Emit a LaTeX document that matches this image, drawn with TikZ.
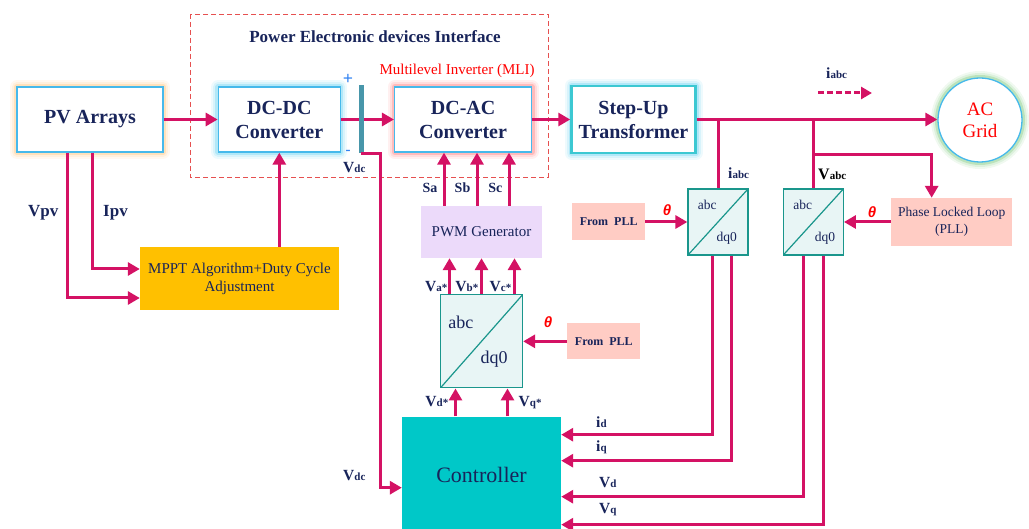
\documentclass[tikz,border=0pt]{standalone}
\usepackage{fontspec}
\setmainfont{Liberation Serif}
\newfontfamily\thetafont{Liberation Sans}
\usetikzlibrary{positioning, arrows.meta}

\definecolor{wirecol}{RGB}{212,18,100}
\definecolor{navy}{RGB}{24,36,90}
\definecolor{boxline}{RGB}{70,185,235}
\definecolor{trafoline}{RGB}{60,200,210}
\definecolor{mpptfill}{RGB}{255,192,0}
\definecolor{pwmfill}{RGB}{236,218,250}
\definecolor{pllfill}{RGB}{255,204,196}
\definecolor{parkfill}{RGB}{232,245,245}
\definecolor{parkline}{RGB}{26,150,140}
\definecolor{ctrlfill}{RGB}{0,200,200}
\definecolor{capcol}{RGB}{72,150,170}
\definecolor{framecol}{RGB}{230,80,80}
\definecolor{pvglow}{RGB}{255,190,110}
\definecolor{dcglow}{RGB}{90,205,240}
\definecolor{acglow}{RGB}{255,110,110}
\definecolor{gridglow}{RGB}{110,195,110}

\newcommand{\lsub}[1]{{\fontsize{11}{13}\selectfont #1}}

\begin{document}
\begin{tikzpicture}[x=1pt, y=-1pt,
  box/.style={draw=boxline, line width=1.3pt, fill=white, align=center, text=navy, inner sep=1pt, minimum height=65pt, font=\fontsize{20}{24}\selectfont\bfseries},
  glow/.style={preaction={draw=#1, line width=14pt, opacity=0.1, line join=round},
    preaction={draw=#1, line width=10pt, opacity=0.15, line join=round},
    preaction={draw=#1, line width=6pt, opacity=0.3, line join=round}},
  flat/.style={fill=#1, align=center, text=navy, inner sep=1pt},
  park/.style={draw=parkline, fill=parkfill, line width=1.3pt, path picture={\draw[parkline, line width=1.2pt] (path picture bounding box.south west) -- (path picture bounding box.north east);}},
  parktxt/.style={text=navy, inner sep=0pt, font=\fontsize{#1}{#1}\selectfont},
  wire/.style={draw=wirecol, line width=3pt, -{Triangle[length=12pt, width=13pt]}},
  tap/.style={draw=wirecol, line width=3pt},
  flow/.style={draw=wirecol, line width=3pt, dash pattern=on 6pt off 3pt, -{Triangle[length=11pt, width=12pt]}},
  sig/.style={text=navy, inner sep=0pt, font=\fontsize{15.5}{17}\selectfont\bfseries},
  thetalbl/.style={text=red, inner sep=0pt, font=\fontsize{15}{17}\selectfont\thetafont\bfseries\itshape}]

  \useasboundingbox (0,0) rectangle (1029,529);

  % interface frame
  \draw[framecol, line width=0.9pt, dash pattern=on 5pt off 3pt] (190,14) rectangle (548,177);
  \node[text=navy, font=\fontsize{17}{20}\selectfont\bfseries] (peti) at (375,37) {Power Electronic devices Interface};
  \node[text=red, font=\fontsize{15}{18}\selectfont] (mli) at (457,71) {Multilevel Inverter (MLI)};

  % power path
  \node[box, glow=pvglow, minimum width=146pt] (pv) at (90,119.5) {PV Arrays};
  \node[box, glow=dcglow, right=54pt of pv, minimum width=122pt] (dcdc) {DC-DC\\Converter};
  \node[box, glow=acglow, right=53pt of dcdc, minimum width=137pt] (dcac) {DC-AC\\Converter};
  \node[box, glow=dcglow, draw=trafoline, line width=2.5pt, right=38pt of dcac, minimum width=124pt, minimum height=67pt] (trafo) {Step-Up\\Transformer};
  \node[circle, glow=gridglow, draw=boxline, line width=1.3pt, fill=white, minimum size=84pt, align=center, text=red, font=\fontsize{19}{22}\selectfont] (grid) at (980,120) {AC\\Grid};
  \draw[wire] (pv) -- (dcdc);
  \draw[wire] (dcdc) -- (dcac);
  \draw[wire] (dcac) -- (trafo);
  \draw[wire] (trafo.east) -- (trafo.east -| grid.west);

  % dc link
  \node[fill=capcol, minimum width=5pt, minimum height=68pt, inner sep=0pt] (cap) at (361,119.5) {};
  \node[text=boxline!70!blue, inner sep=0pt, font=\fontsize{18}{18}\selectfont\bfseries] (capplus) at (348,79) {+};
  \node[text=boxline!70!blue, inner sep=0pt, font=\fontsize{15}{15}\selectfont\bfseries] (capminus) at (348,152) {-};
  \node[sig, anchor=base west] (vdcup) at (343,173) {V\lsub{dc}};

  % control blocks
  \node[flat=mpptfill, minimum width=199pt, minimum height=63pt, font=\fontsize{15}{18}\selectfont] (mppt) at (239.5,278.5) {MPPT Algorithm+Duty Cycle\\Adjustment};
  \node[flat=pwmfill, minimum width=121pt, minimum height=52pt, font=\fontsize{15}{18}\selectfont] (pwm) at (481.5,232) {PWM Generator};
  \node[park, minimum width=82pt, minimum height=93pt, below=36pt of pwm] (park3) {};
  \node[flat=ctrlfill, minimum width=159pt, minimum height=116pt, below=28pt of park3, font=\fontsize{22}{26}\selectfont] (ctrl) {Controller};
  \node[flat=pllfill, minimum width=73pt, minimum height=36pt, right=44pt of park3, font=\fontsize{12}{14}\selectfont\bfseries] (pll3) {From~ PLL};

  \node[park, minimum width=60pt, minimum height=66pt] (park1) at (718,222) {};
  \node[park, minimum width=60pt, minimum height=66pt, right=34pt of park1] (park2) {};
  \node[flat=pllfill, minimum width=73pt, minimum height=37pt, left=42pt of park1, font=\fontsize{12}{14}\selectfont\bfseries] (pll1) {From~ PLL};
  \node[flat=pllfill, minimum width=121pt, minimum height=48pt, right=47pt of park2, font=\fontsize{13.5}{17}\selectfont] (pll) {Phase Locked Loop\\(PLL)};

  \node[parktxt=18] (park3abc) at ([xshift=21pt, yshift=-28pt]park3.north west) {abc};
  \node[parktxt=18] (park3dq) at ([xshift=-29pt, yshift=29pt]park3.south east) {dq0};
  \node[parktxt=13.5] (park1abc) at ([xshift=20pt, yshift=-17pt]park1.north west) {abc};
  \node[parktxt=13.5] (park1dq) at ([xshift=-22pt, yshift=17pt]park1.south east) {dq0};
  \node[parktxt=13.5] (park2abc) at ([xshift=20pt, yshift=-17pt]park2.north west) {abc};
  \node[parktxt=13.5] (park2dq) at ([xshift=-19pt, yshift=17pt]park2.south east) {dq0};

  % mppt loop
  \draw[wire] ([xshift=-23pt]pv.south) |- ([yshift=-19.5pt]mppt.west);
  \draw[wire] ([xshift=2pt]pv.south) |- ([yshift=9.5pt]mppt.west);
  \draw[wire] (mppt.north -| dcdc.south) -- (dcdc.south);
  \node[sig, font=\fontsize{17}{19}\selectfont\bfseries, anchor=base west] (lvpv) at (28,217) {Vpv};
  \node[sig, font=\fontsize{17}{19}\selectfont\bfseries, anchor=base west] (lipv) at (103,217) {Ipv};

  % switching signals
  \foreach \dx/\lx/\s in {-37.5/-44/a, -4.5/-11/b, 27.5/21/c} {
    \draw[wire] ([xshift=\dx pt]pwm.north) -- ([xshift=\dx pt]pwm.north |- dcac.south);
    \node[sig, font=\fontsize{14}{16}\selectfont\bfseries, anchor=base east] (sw\s) at ([xshift=\lx pt, yshift=13pt]pwm.north) {S\s};
  }
  \foreach \dx/\lx/\s in {-32/-34/a, 0/-3/b, 33/30/c} {
    \draw[wire] ([xshift=\dx pt]park3.north) -- ([xshift=\dx pt]park3.north |- pwm.south);
    \node[sig, anchor=base east] (vref\s) at ([xshift=\lx pt, yshift=3pt]park3.north) {V\lsub{\s*}};
  }
  \draw[wire] ([xshift=-26pt]ctrl.north) -- ([xshift=-26pt]ctrl.north |- park3.south);
  \draw[wire] ([xshift=26pt]ctrl.north) -- ([xshift=26pt]ctrl.north |- park3.south);
  \node[sig, anchor=base east] (vdref) at ([xshift=-33pt, yshift=10pt]ctrl.north) {V\lsub{d*}};
  \node[sig, anchor=base west] (vqref) at ([xshift=37pt, yshift=10pt]ctrl.north) {V\lsub{q*}};

  % angle inputs
  \draw[wire] (pll3) -- (park3);
  \draw[wire] (pll1) -- (park1);
  \draw[wire] (pll) -- (park2);
  \node[thetalbl] (th3) at (548,322) {θ};
  \node[thetalbl] (th1) at (667,210) {θ};
  \node[thetalbl] (th2) at (872,212) {θ};

  % measurements from the grid side
  \draw[tap] (park1.north |- trafo.east) -- (park1.north);
  \coordinate (tap2) at (park2.north |- trafo.east);
  \draw[tap] (tap2) -- (park2.north);
  \draw[wire] ([yshift=-35.5pt]tap2) -| ([xshift=-20pt]pll.north);
  \node[sig, anchor=base west] (liabc) at (728,179) {i\lsub{abc}};
  \node[text=black, inner sep=0pt, font=\fontsize{16}{18}\selectfont\bfseries, anchor=base west] (lvabc) at (818,180) {V\lsub{abc}};
  \coordinate (flowA) at (818,93);
  \coordinate (flowB) at (872,93);
  \draw[flow] (flowA) -- (flowB);
  \node[sig, anchor=base west] (lflow) at (826,79) {i\lsub{abc}};

  % feedback into the controller
  \draw[wire] (cap.south) -- ++(19,0) |- ([yshift=-13pt]ctrl.west);
  \node[sig, anchor=base west] (vdclow) at (343,481) {V\lsub{dc}};
  \draw[wire] ([xshift=-6pt]park1.south) |- ([yshift=40pt]ctrl.east);
  \draw[wire] ([xshift=13pt]park1.south) |- ([yshift=14pt]ctrl.east);
  \draw[wire] ([xshift=-10pt]park2.south) |- ([yshift=-22pt]ctrl.east);
  \draw[wire] ([xshift=10pt]park2.south) |- ([yshift=-50pt]ctrl.east);
  \node[sig, anchor=base west] (lid) at (596,428) {i\lsub{d}};
  \node[sig, anchor=base west] (liq) at (596,452) {i\lsub{q}};
  \node[sig, anchor=base west] (lvd) at (599,487) {V\lsub{d}};
  \node[sig, anchor=base west] (lvq) at (599,513) {V\lsub{q}};
\end{tikzpicture}
\end{document}
